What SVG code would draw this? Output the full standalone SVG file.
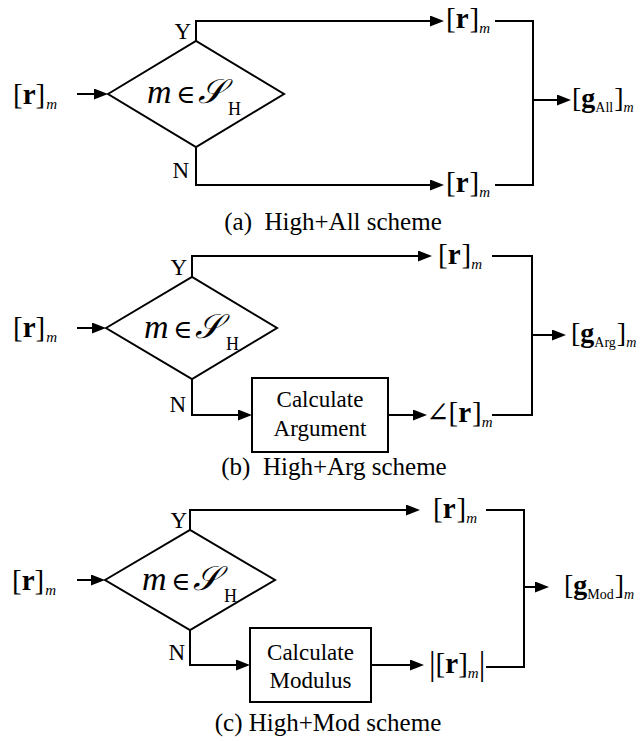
<svg xmlns="http://www.w3.org/2000/svg" width="641" height="741" viewBox="0 0 641 741">
<style>
.ln{fill:none;stroke:#000;stroke-width:2}
.arr{fill:none;stroke:#000;stroke-width:2;marker-end:url(#ah)}
.shape{fill:#fff;stroke:#000;stroke-width:2}
text{font-family:"Liberation Serif","DejaVu Serif",serif;fill:#000}
.lab{font-size:29px}
.glab{font-size:28px}
.b{font-weight:bold}
.sub{font-size:15px;font-style:italic}
.sub2{font-size:14px;font-style:italic}
.subr{font-size:14px}
.yn{font-size:23px;text-anchor:end}
.cap{font-size:25px;text-anchor:middle;white-space:pre}
.box{font-size:23px;text-anchor:middle}
.mi{font-size:34px;font-style:italic}
.el{font-size:26px;font-family:"DejaVu Serif",serif}
.ang{font-size:28px;font-family:"DejaVu Serif",serif}
.bar{font-size:33px}
.sc{font-size:34px;font-style:italic}
.sh{font-size:18px}
</style>
<defs>
<marker id="ah" markerWidth="14" markerHeight="11" refX="8" refY="5.5" orient="auto" markerUnits="userSpaceOnUse">
<path d="M0,0 L14,5.5 L0,11 z" fill="#000"/>
</marker>
</defs>

<g id="connectors">
<!-- panel a -->
<path class="arr" d="M77,94 H102"/>
<path class="arr" d="M196,41 V21 H438"/>
<path class="arr" d="M196,147 V185 H438"/>
<path class="ln" d="M495,21 H533 V185 H495"/>
<path class="arr" d="M533,100 H565"/>
<!-- panel b -->
<path class="arr" d="M77,328 H100"/>
<path class="arr" d="M192,277 V256 H426"/>
<path class="arr" d="M192,379 V415 H246"/>
<path class="arr" d="M388,415 H421"/>
<path class="ln" d="M492,256 H532 V415 H492"/>
<path class="arr" d="M532,335 H560"/>
<!-- panel c -->
<path class="arr" d="M77,580 H99"/>
<path class="arr" d="M190,530 V510 H414"/>
<path class="arr" d="M190,630 V665 H244"/>
<path class="arr" d="M371,665 H418"/>
<path class="ln" d="M486,510 H524 V667 H486"/>
<path class="arr" d="M524,587 H543"/>
</g>

<!-- panel a -->
<g id="a_in"><text class="lab" x="13" y="104"><tspan>[</tspan><tspan class="b">r</tspan><tspan>]</tspan><tspan class="sub" dy="5" dx="1">m</tspan></text></g>
<g id="a_dec">
<polygon class="shape" points="108,94 196,41 284,94 196,147"/>
<text x="147" y="103"><tspan class="mi">m</tspan><tspan class="el" x="176">∈</tspan><tspan class="sc" x="198">𝒮</tspan><tspan class="sh" x="228" dy="12">H</tspan></text>
<text class="yn" x="191" y="39">Y</text>
<text class="yn" x="189" y="178">N</text>
</g>
<g id="a_top"><text class="lab" x="446" y="28"><tspan>[</tspan><tspan class="b">r</tspan><tspan dx="1">]</tspan><tspan class="sub" dy="5">m</tspan></text></g>
<g id="a_bot"><text class="lab" x="446" y="192"><tspan>[</tspan><tspan class="b">r</tspan><tspan dx="1">]</tspan><tspan class="sub" dy="5">m</tspan></text></g>
<g id="a_out"><text class="glab" x="572" y="107"><tspan>[</tspan><tspan class="b">g</tspan><tspan class="subr" dy="5">All</tspan><tspan dy="-5" dx="1">]</tspan><tspan class="sub2" dy="5">m</tspan></text></g>
<text class="cap" x="333" y="230">(a)  High+All scheme</text>

<!-- panel b -->
<g id="b_in"><text class="lab" x="13" y="337"><tspan>[</tspan><tspan class="b">r</tspan><tspan>]</tspan><tspan class="sub" dy="5" dx="1">m</tspan></text></g>
<g id="b_dec">
<polygon class="shape" points="106,328 192,277 277,328 192,379"/>
<text x="144" y="338"><tspan class="mi">m</tspan><tspan class="el" x="173">∈</tspan><tspan class="sc" x="195">𝒮</tspan><tspan class="sh" x="226" dy="12">H</tspan></text>
<text class="yn" x="187" y="275">Y</text>
<text class="yn" x="186" y="412">N</text>
</g>
<g id="b_top"><text class="lab" x="438" y="264"><tspan>[</tspan><tspan class="b">r</tspan><tspan dx="1">]</tspan><tspan class="sub" dy="5">m</tspan></text></g>
<g id="b_box">
<rect class="shape" x="252" y="378" width="136" height="74"/>
<text class="box" x="320" y="407">Calculate</text>
<text class="box" x="320" y="436">Argument</text>
</g>
<g id="b_arg"><text class="lab" x="426" y="422"><tspan class="ang">∠</tspan><tspan dx="-1">[</tspan><tspan class="b">r</tspan><tspan dx="1">]</tspan><tspan class="sub" dy="5">m</tspan></text></g>
<g id="b_out"><text class="glab" x="571" y="342"><tspan>[</tspan><tspan class="b">g</tspan><tspan class="subr" dy="5">Arg</tspan><tspan dy="-5" dx="1">]</tspan><tspan class="sub2" dy="5">m</tspan></text></g>
<text class="cap" x="334" y="475">(b)  High+Arg scheme</text>

<!-- panel c -->
<g id="c_in"><text class="lab" x="12" y="590"><tspan>[</tspan><tspan class="b">r</tspan><tspan>]</tspan><tspan class="sub" dy="5" dx="1">m</tspan></text></g>
<g id="c_dec">
<polygon class="shape" points="105,580 190,530 275,580 190,630"/>
<text x="142" y="590"><tspan class="mi">m</tspan><tspan class="el" x="171">∈</tspan><tspan class="sc" x="193">𝒮</tspan><tspan class="sh" x="224" dy="12">H</tspan></text>
<text class="yn" x="187" y="528">Y</text>
<text class="yn" x="185" y="660">N</text>
</g>
<g id="c_top"><text class="lab" x="433" y="518"><tspan>[</tspan><tspan class="b">r</tspan><tspan dx="1">]</tspan><tspan class="sub" dy="5">m</tspan></text></g>
<g id="c_box">
<rect class="shape" x="250" y="628" width="121" height="74"/>
<text class="box" x="310.5" y="660">Calculate</text>
<text class="box" x="310.5" y="688">Modulus</text>
</g>
<g id="c_mod"><text class="lab" x="429" y="675"><tspan class="bar">|</tspan><tspan dy="-2">[</tspan><tspan class="b">r</tspan><tspan>]</tspan><tspan class="sub" dy="5">m</tspan><tspan class="bar" dy="-3">|</tspan></text></g>
<g id="c_out"><text class="glab" x="564" y="594"><tspan>[</tspan><tspan class="b">g</tspan><tspan class="subr" dy="5">Mod</tspan><tspan dy="-5" dx="1">]</tspan><tspan class="sub2" dy="5">m</tspan></text></g>
<text class="cap" x="328" y="731">(c) High+Mod scheme</text>
</svg>
